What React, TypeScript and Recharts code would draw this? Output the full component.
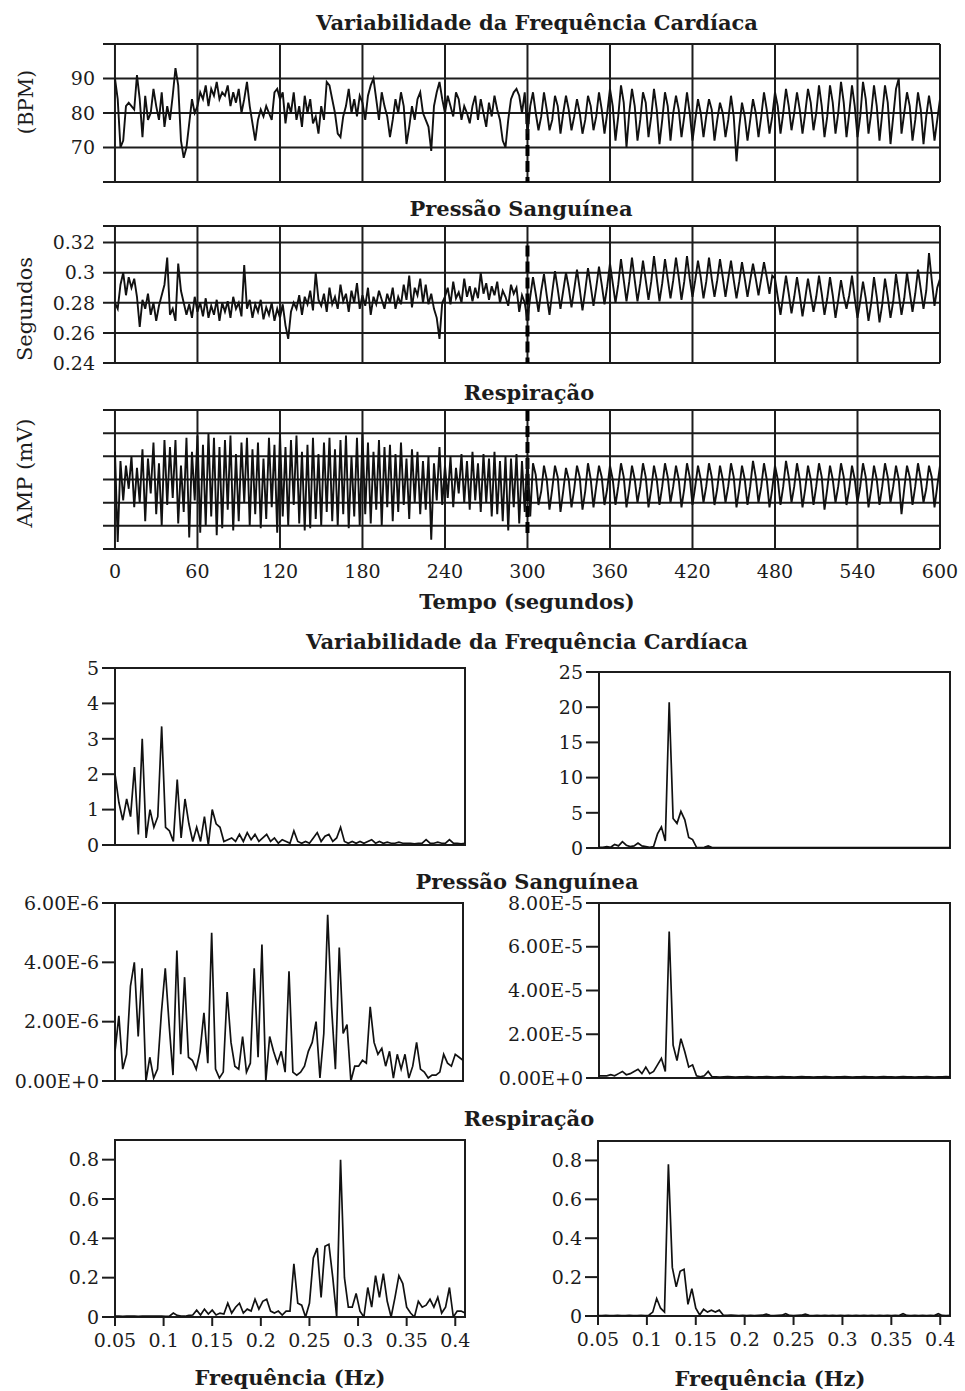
import React from 'react';
import { LineChart, Line, XAxis, YAxis, CartesianGrid, ReferenceLine, ReferenceArea } from 'recharts';

// ---------- time-domain series (one value every 2 s, 0..600 s) ----------
const TIME_STEP = 2;

const hrvBpm = [
  90, 84, 70, 72, 82, 83, 82, 81, 91, 84,
  73, 85, 78, 80, 87, 82, 78, 86, 76, 82,
  78, 85, 93, 88, 72, 67, 70, 77, 84, 80,
  82, 86, 84, 88, 82, 87, 85, 89, 84, 86,
  85, 88, 82, 86, 83, 87, 80, 84, 89, 82,
  77, 72, 78, 81, 79, 82, 80, 78, 86, 87,
  84, 86, 77, 83, 80, 86, 78, 82, 76, 85,
  80, 84, 77, 79, 74, 82, 78, 89, 88, 84,
  80, 74, 73, 79, 82, 87, 80, 84, 79, 85,
  83, 78, 85, 88, 90, 84, 78, 86, 82, 79,
  73, 78, 84, 80, 86, 82, 71, 76, 82, 78,
  84, 86, 80, 78, 76, 69, 82, 86, 89, 84,
  80, 85, 82, 79, 86, 84, 78, 82, 80, 77,
  82, 85, 78, 84, 80, 76, 83, 79, 85, 81,
  78, 72, 70, 78, 84, 86, 87, 85, 80, 86,
  74, 82, 86, 80, 75, 79, 86, 81, 75, 78,
  85, 82, 74, 80, 85, 81, 75, 79, 84, 80,
  74, 78, 85, 82, 75, 79, 86, 81, 74, 80,
  87, 82, 72, 79, 88, 83, 70, 80, 87, 82,
  72, 78, 86, 83, 73, 79, 87, 81, 71, 78,
  86, 82, 72, 80, 85, 81, 73, 79, 86, 80,
  72, 78, 84, 80, 73, 79, 84, 81, 72, 78,
  83, 80, 73, 78, 85, 79, 66, 76, 83, 79,
  72, 78, 84, 80, 73, 79, 86, 81, 74, 79,
  86, 82, 74, 80, 87, 82, 75, 80, 86, 81,
  74, 80, 87, 83, 75, 80, 88, 82, 73, 79,
  88, 83, 74, 80, 89, 83, 73, 80, 88, 82,
  73, 79, 89, 84, 74, 80, 88, 82, 72, 80,
  88, 83, 71, 79, 87, 90, 74, 80, 86, 82,
  72, 78, 86, 81, 71, 79, 85, 80, 72, 78,
  84,
];

const bpSeconds = [
  0.280, 0.276, 0.292, 0.300, 0.285, 0.297, 0.290, 0.296, 0.284, 0.264,
  0.282, 0.276, 0.286, 0.272, 0.280, 0.268, 0.278, 0.285, 0.292, 0.310,
  0.272, 0.276, 0.268, 0.306, 0.288, 0.280, 0.272, 0.279, 0.270, 0.284,
  0.274, 0.280, 0.271, 0.283, 0.270, 0.278, 0.272, 0.282, 0.268, 0.280,
  0.274, 0.281, 0.270, 0.284, 0.276, 0.280, 0.271, 0.305, 0.276, 0.282,
  0.270, 0.279, 0.274, 0.282, 0.269, 0.277, 0.272, 0.280, 0.268, 0.276,
  0.270, 0.279, 0.265, 0.256, 0.274, 0.280, 0.276, 0.285, 0.272, 0.284,
  0.279, 0.288, 0.275, 0.300, 0.282, 0.278, 0.286, 0.274, 0.290, 0.279,
  0.284, 0.276, 0.292, 0.281, 0.286, 0.274, 0.288, 0.280, 0.293, 0.276,
  0.285, 0.278, 0.290, 0.272, 0.284, 0.279, 0.288, 0.282, 0.276, 0.286,
  0.280, 0.290, 0.276, 0.284, 0.279, 0.292, 0.282, 0.298, 0.277, 0.290,
  0.285, 0.296, 0.280, 0.292, 0.279, 0.286, 0.276, 0.270, 0.256, 0.280,
  0.284, 0.290, 0.279, 0.294, 0.283, 0.287, 0.280, 0.296, 0.284, 0.291,
  0.281, 0.290, 0.283, 0.300, 0.286, 0.293, 0.282, 0.291, 0.285, 0.294,
  0.280, 0.288, 0.284, 0.278, 0.292, 0.286, 0.290, 0.274, 0.285, 0.280,
  0.268, 0.284, 0.297, 0.286, 0.274, 0.288, 0.299, 0.285, 0.272, 0.287,
  0.301, 0.289, 0.276, 0.288, 0.300, 0.290, 0.277, 0.289, 0.302, 0.289,
  0.275, 0.288, 0.303, 0.291, 0.278, 0.290, 0.304, 0.292, 0.279, 0.291,
  0.306, 0.293, 0.280, 0.292, 0.309, 0.295, 0.281, 0.294, 0.310, 0.295,
  0.281, 0.293, 0.308, 0.295, 0.282, 0.294, 0.311, 0.296, 0.281, 0.293,
  0.309, 0.296, 0.283, 0.295, 0.310, 0.297, 0.282, 0.294, 0.311, 0.296,
  0.284, 0.295, 0.308, 0.297, 0.283, 0.294, 0.310, 0.296, 0.284, 0.295,
  0.309, 0.297, 0.284, 0.296, 0.308, 0.295, 0.283, 0.294, 0.307, 0.296,
  0.284, 0.295, 0.306, 0.296, 0.285, 0.296, 0.307, 0.297, 0.286, 0.298,
  0.296, 0.284, 0.272, 0.285, 0.298, 0.286, 0.273, 0.284, 0.297, 0.285,
  0.271, 0.283, 0.296, 0.285, 0.274, 0.284, 0.298, 0.286, 0.272, 0.283,
  0.297, 0.285, 0.270, 0.282, 0.295, 0.284, 0.276, 0.285, 0.298, 0.283,
  0.270, 0.281, 0.294, 0.283, 0.268, 0.280, 0.297, 0.284, 0.267, 0.279,
  0.296, 0.284, 0.270, 0.281, 0.299, 0.286, 0.272, 0.283, 0.300, 0.287,
  0.274, 0.286, 0.302, 0.289, 0.276, 0.288, 0.313, 0.295, 0.278, 0.290,
  0.296,
];

const respMv = [
  1.2, -2.7, 0.8, -0.9, 0.6, -0.4, 1.0, -1.2, 0.5, -1.0,
  1.3, -1.8, 0.9, -0.6, 1.6, -1.5, 0.7, -2.0, 1.7, -1.1,
  1.4, -0.8, 1.7, -1.9, 0.6, -1.4, 1.8, -2.5, 1.2, -0.9,
  1.9, -2.3, 1.5, -2.0, 2.0, -1.6, 1.8, -2.4, 1.4, -2.1,
  1.7, -1.3, 1.9, -2.2, 1.1, -1.8, 1.6, -1.0, 1.8, -2.0,
  1.3, -1.5, 1.6, -2.1, 0.9, -1.7, 1.8, -1.2, 1.5, -2.3,
  2.0, -1.6, 1.4, -2.0, 1.7, -1.1, 1.9, -1.9, 1.2, -2.2,
  1.5, -2.1, 1.8, -1.7, 1.1, -2.0, 1.6, -1.4, 1.8, -1.8,
  1.3, -2.0, 1.7, -1.5, 1.9, -2.1, 1.0, -1.6, 1.8, -2.0,
  2.0, -1.5, 1.6, -1.9, 1.2, -1.3, 1.7, -2.0, 1.4, -1.2,
  1.5, -1.8, 1.1, -1.4, 1.6, -1.1, 0.9, -1.7, 1.3, -1.0,
  1.2, -1.5, 0.8, -1.3, 1.0, -2.6, 0.7, -0.9, 1.4, -1.1,
  0.6, -0.8, 1.0, -1.2, 0.5, -0.6, 1.1, -1.0, 0.8, -1.3,
  1.2, -0.9, 0.7, -1.4, 1.1, -1.0, 0.9, -1.6, 1.2, -1.5,
  0.8, -1.8, 1.0, -2.2, 0.9, -1.2, 1.1, -1.9, 0.8, -1.4,
  1.0, -1.6, 0.7, 0.2, -1.1, -0.5, 0.6, 0.0, -1.3, -0.4,
  0.6, 0.1, -1.4, -0.5, 0.5, 0.0, -1.2, -0.4, 0.6, 0.1,
  -1.3, -0.5, 0.7, 0.0, -1.2, -0.3, 0.6, 0.1, -1.1, -0.4,
  0.6, 0.0, -1.1, -0.3, 0.7, 0.1, -1.2, -0.4, 0.6, 0.0,
  -1.0, -0.3, 0.7, 0.1, -1.2, -0.4, 0.6, 0.0, -1.1, -0.3,
  0.7, 0.1, -1.0, -0.3, 0.6, 0.0, -1.2, -0.4, 0.7, 0.1,
  -1.1, -0.3, 0.6, 0.0, -1.0, -0.3, 0.7, 0.1, -1.1, -0.4,
  0.6, 0.0, -1.0, -0.3, 0.7, 0.1, -1.2, -0.4, 0.6, 0.0,
  -1.1, -0.3, 0.8, 0.1, -1.0, -0.3, 0.7, 0.0, -1.2, -0.4,
  0.6, 0.0, -1.1, -0.3, 0.8, 0.1, -1.0, -0.3, 0.7, 0.0,
  -1.2, -0.4, 0.6, 0.0, -1.1, -0.3, 0.7, 0.1, -1.3, -0.4,
  0.6, 0.0, -1.0, -0.3, 0.7, 0.1, -1.1, -0.4, 0.6, 0.0,
  -1.0, -0.3, 0.7, 0.1, -1.2, -0.4, 0.6, 0.0, -1.1, -0.3,
  0.7, 0.1, -1.0, -0.3, 0.6, 0.0, -1.5, -0.4, 0.6, 0.1,
  -1.1, -0.3, 0.7, 0.0, -1.0, -0.4, 0.6, 0.1, -1.2, -0.3,
  0.6,
];

// ---------- spectra (0.05 .. 0.41 Hz, one value every 0.004 Hz) ----------
const FREQ_START = 0.05;
const FREQ_STEP = 0.004;

const hrvSpecLeft = [
  2.0, 1.2, 0.7, 1.3, 0.8, 2.2, 0.3, 3.0, 0.2, 1.0,
  0.5, 0.8, 3.35, 0.5, 0.4, 0.1, 1.85, 0.2, 1.3, 0.6,
  0.1, 0.5, 0.1, 0.8, 0.0, 1.0, 0.6, 0.5, 0.1, 0.15,
  0.2, 0.1, 0.3, 0.1, 0.35, 0.15, 0.3, 0.1, 0.2, 0.3,
  0.1, 0.2, 0.05, 0.15, 0.1, 0.05, 0.4, 0.1, 0.05, 0.1,
  0.05, 0.2, 0.35, 0.1, 0.25, 0.3, 0.1, 0.2, 0.5, 0.1,
  0.05, 0.1, 0.05, 0.1, 0.05, 0.1, 0.15, 0.05, 0.1, 0.05,
  0.08, 0.05, 0.05, 0.08, 0.05, 0.05, 0.05, 0.03, 0.05, 0.05,
  0.15, 0.05, 0.05, 0.08, 0.05, 0.05, 0.15, 0.05, 0.05, 0.03,
  0.05,
];

const hrvSpecRight = [
  0.1, 0.1, 0.2, 0.1, 0.5, 0.3, 0.9, 0.4, 0.2, 0.3,
  0.7, 0.3, 0.2, 0.1, 0.2, 2.0, 3.0, 1.0, 20.7, 4.2,
  3.5, 5.2, 4.0, 1.5, 1.2, 0.1, 0.05, 0.1, 0.3, 0.05,
  0.05, 0.04, 0.05, 0.06, 0.05, 0.04, 0.05, 0.05, 0.06, 0.05,
  0.04, 0.05, 0.05, 0.06, 0.05, 0.04, 0.05, 0.06, 0.05, 0.05,
  0.04, 0.05, 0.06, 0.05, 0.05, 0.04, 0.05, 0.05, 0.06, 0.05,
  0.04, 0.05, 0.05, 0.06, 0.05, 0.04, 0.05, 0.05, 0.06, 0.05,
  0.05, 0.04, 0.05, 0.06, 0.05, 0.05, 0.04, 0.05, 0.06, 0.05,
  0.05, 0.04, 0.05, 0.05, 0.06, 0.05, 0.04, 0.05, 0.05, 0.06,
  0.05,
];

// units of 1E-6
const bpSpecLeft = [
  1.0, 2.2, 0.4, 0.9, 3.2, 4.0, 1.5, 3.8, 0.0, 0.8,
  0.1, 0.4, 2.3, 3.8, 1.9, 0.2, 4.4, 0.9, 3.5, 0.8,
  0.7, 0.4, 1.0, 2.3, 0.6, 5.0, 0.4, 0.1, 0.3, 3.0,
  1.3, 0.5, 0.4, 1.5, 0.3, 0.6, 3.8, 0.8, 4.6, 0.0,
  1.5, 1.0, 0.6, 1.0, 0.3, 3.7, 0.3, 0.2, 0.3, 0.5,
  1.0, 1.3, 2.0, 0.1, 1.6, 5.6, 2.5, 0.4, 4.5, 1.6,
  1.9, 0.0, 0.5, 0.5, 0.7, 0.6, 2.5, 1.3, 0.9, 1.1,
  0.5, 1.0, 0.1, 0.9, 0.4, 0.9, 0.1, 0.5, 1.3, 0.4,
  0.3, 0.1, 0.2, 0.2, 0.3, 0.9, 0.6, 0.5, 0.9, 0.8,
  0.7,
];

// units of 1E-5
const bpSpecRight = [
  0.1, 0.1, 0.1, 0.15, 0.1, 0.2, 0.3, 0.15, 0.2, 0.3,
  0.4, 0.2, 0.5, 0.2, 0.3, 0.6, 0.9, 0.3, 6.7, 1.5,
  0.8, 1.8, 1.2, 0.5, 0.6, 0.1, 0.05, 0.1, 0.3, 0.05,
  0.05, 0.04, 0.05, 0.06, 0.05, 0.04, 0.05, 0.05, 0.06, 0.05,
  0.04, 0.05, 0.05, 0.06, 0.05, 0.04, 0.05, 0.06, 0.05, 0.05,
  0.04, 0.05, 0.06, 0.05, 0.05, 0.04, 0.05, 0.05, 0.06, 0.05,
  0.04, 0.05, 0.05, 0.06, 0.05, 0.04, 0.05, 0.05, 0.06, 0.05,
  0.05, 0.04, 0.05, 0.06, 0.05, 0.05, 0.04, 0.05, 0.06, 0.05,
  0.05, 0.04, 0.05, 0.05, 0.06, 0.05, 0.04, 0.05, 0.05, 0.06,
  0.05,
];

const respSpecLeft = [
  0.005, 0.005, 0.003, 0.005, 0.004, 0.005, 0.003, 0.005, 0.004, 0.005,
  0.005, 0.004, 0.005, 0.003, 0.004, 0.02, 0.008, 0.005, 0.004, 0.008,
  0.01, 0.035, 0.01, 0.04, 0.015, 0.035, 0.01, 0.02, 0.015, 0.07,
  0.02, 0.05, 0.07, 0.02, 0.04, 0.03, 0.09, 0.04, 0.08, 0.09,
  0.03, 0.02, 0.03, 0.01, 0.03, 0.03, 0.27, 0.07, 0.06, 0.0,
  0.07, 0.3, 0.35, 0.1, 0.36, 0.37, 0.2, 0.0, 0.8, 0.2,
  0.05, 0.05, 0.12, 0.03, 0.0, 0.15, 0.05, 0.21, 0.1, 0.22,
  0.08, 0.0, 0.1, 0.21, 0.17, 0.05, 0.02, 0.0, 0.08, 0.05,
  0.06, 0.09, 0.05, 0.1, 0.02, 0.05, 0.15, 0.0, 0.03, 0.03,
  0.02,
];

const respSpecRight = [
  0.002, 0.002, 0.003, 0.002, 0.002, 0.003, 0.002, 0.002, 0.003, 0.002,
  0.002, 0.003, 0.002, 0.004, 0.02, 0.09, 0.04, 0.02, 0.78, 0.25,
  0.15, 0.23, 0.24, 0.06, 0.14, 0.04, 0.005, 0.035, 0.02, 0.03,
  0.02, 0.03, 0.005, 0.003, 0.004, 0.003, 0.002, 0.003, 0.002, 0.003,
  0.002, 0.003, 0.004, 0.01, 0.003, 0.002, 0.003, 0.004, 0.012, 0.003,
  0.002, 0.003, 0.004, 0.01, 0.003, 0.002, 0.003, 0.002, 0.003, 0.002,
  0.003, 0.002, 0.003, 0.002, 0.003, 0.002, 0.003, 0.002, 0.003, 0.002,
  0.003, 0.002, 0.003, 0.002, 0.003, 0.002, 0.003, 0.002, 0.012, 0.003,
  0.002, 0.003, 0.002, 0.003, 0.002, 0.003, 0.002, 0.012, 0.003, 0.002,
  0.003,
];

// ---------- ticks ----------
const timeTicks = [0, 60, 120, 180, 240, 300, 360, 420, 480, 540, 600];
const freqTicks = [0.05, 0.1, 0.15, 0.2, 0.25, 0.3, 0.35, 0.4];
const hrvTicks = [60, 70, 80, 90, 100];
const bpTicks = [0.24, 0.26, 0.28, 0.3, 0.32, 0.331];
const respTicks = [-3, -2, -1, 0, 1, 2, 3];
const hrvSpecLeftTicks = [0, 1, 2, 3, 4, 5];
const hrvSpecRightTicks = [0, 5, 10, 15, 20, 25];
const bpSpecLeftTicks = [0, 2, 4, 6];
const bpSpecRightTicks = [0, 2, 4, 6, 8];
const respSpecTicks = [0, 0.2, 0.4, 0.6, 0.8];

// ---------- tables for the library ----------
const timeData = hrvBpm.map((v, i) => ({
  t: i * TIME_STEP,
  hrv: v,
  bp: bpSeconds[i],
  resp: respMv[i],
}));

const specData = hrvSpecLeft.map((v, i) => ({
  f: Number((FREQ_START + FREQ_STEP * i).toFixed(3)),
  hL: v,
  hR: hrvSpecRight[i],
  bL: bpSpecLeft[i],
  bR: bpSpecRight[i],
  rL: respSpecLeft[i],
  rR: respSpecRight[i],
}));

// ---------- styling ----------
const FONT = '"DejaVu Serif", "Liberation Serif", serif';
const INK = '#1c1c1c';
const tickStyle = { fontSize: 19, fill: INK, fontFamily: FONT };

const Title = ({ x, y, children }: any) => (
  <div
    style={{
      position: 'absolute', left: x, top: y, transform: 'translate(-50%, -50%)',
      fontFamily: FONT, fontWeight: 'bold', fontSize: 21, color: INK, whiteSpace: 'nowrap',
    }}
  >
    {children}
  </div>
);

const VLabel = ({ x, y, size = 20, children }: any) => (
  <div
    style={{
      position: 'absolute', left: x, top: y, transform: 'translate(-50%, -50%) rotate(-90deg)',
      fontFamily: FONT, fontSize: size, color: INK, whiteSpace: 'nowrap',
    }}
  >
    {children}
  </div>
);

const TimePanel = ({ top, height, mt, mb, dataKey, domain, ticks, fmt, showX, seg }: any) => (
  <div style={{ position: 'absolute', left: 0, top, width: 965, height }}>
    <LineChart width={965} height={height} data={timeData} margin={{ top: mt, right: 25, bottom: mb, left: 0 }}>
      <CartesianGrid stroke={INK} strokeWidth={2} syncWithTicks />
      <XAxis
        type="number" dataKey="t" domain={[-8.7, 600]} ticks={timeTicks} interval={0}
        hide={!showX} height={showX ? 40 : 0} axisLine={false} tickLine={false}
        tickSize={0} tickMargin={16} tick={tickStyle} allowDataOverflow
      />
      <YAxis
        type="number" domain={domain} ticks={ticks} interval={0} width={103}
        axisLine={false} tickLine={false} tick={tickStyle}
        tickFormatter={fmt} allowDataOverflow
      />
      <ReferenceLine segment={seg} stroke="#000" strokeWidth={4} strokeDasharray="11 5" ifOverflow="visible" />
      <Line type="linear" dataKey={dataKey} stroke="#111" strokeWidth={1.9} dot={false} isAnimationActive={false} />
    </LineChart>
  </div>
);

const SpecPanel = ({ left, top, width, height, yWidth, mt, mr, mb, dataKey, domain, ticks, fmt, showX }: any) => (
  <div style={{ position: 'absolute', left, top, width, height }}>
    <LineChart width={width} height={height} data={specData} margin={{ top: mt, right: mr, bottom: mb, left: 0 }}>
      <XAxis
        type="number" dataKey="f" domain={[0.05, 0.41]} ticks={freqTicks} interval={0}
        hide={!showX} height={showX ? 40 : 0} axisLine={false}
        tickLine={{ stroke: INK, strokeWidth: 2 }} tickSize={9} tickMargin={8}
        tick={tickStyle} allowDataOverflow
      />
      <YAxis
        type="number" domain={domain} ticks={ticks} interval={0} width={yWidth}
        axisLine={false} tickLine={{ stroke: INK, strokeWidth: 2 }} tickSize={13} tickMargin={3}
        tick={tickStyle} tickFormatter={fmt} allowDataOverflow
      />
      <ReferenceArea
        x1={0.05} x2={0.41} y1={domain[0]} y2={domain[1]}
        fill="none" fillOpacity={0} stroke={INK} strokeWidth={2} ifOverflow="visible"
      />
      <Line type="linear" dataKey={dataKey} stroke="#111" strokeWidth={1.7} dot={false} isAnimationActive={false} />
    </LineChart>
  </div>
);

const hrvFmt = (v: number) => (v === 60 || v === 100 ? '' : String(v));
const bpFmt = (v: number) => (v > 0.325 ? '' : String(Number(v.toFixed(2))));
const blankFmt = () => '';
const plainFmt = (v: number) => String(v);
const e6Fmt = (v: number) => (v === 0 ? '0.00E+0' : `${v.toFixed(2)}E-6`);
const e5Fmt = (v: number) => (v === 0 ? '0.00E+0' : `${v.toFixed(2)}E-5`);

export default function App() {
  return (
    <div style={{ position: 'absolute', left: 0, top: 0, width: 965, height: 1391, background: '#fff', overflow: 'hidden' }}>
      {/* ---- time domain ---- */}
      <Title x={537} y={22}>Variabilidade da Frequência Cardíaca</Title>
      <VLabel x={26} y={102}>(BPM)</VLabel>
      <TimePanel
        top={30} height={164} mt={14} mb={12} dataKey="hrv" domain={[60, 100]} ticks={hrvTicks}
        fmt={hrvFmt} showX={false} seg={[{ x: 300, y: 80 }, { x: 300, y: 60 }]}
      />

      <Title x={521} y={208}>Pressão Sanguínea</Title>
      <VLabel x={25} y={309} size={21}>Segundos</VLabel>
      <TimePanel
        top={216} height={159} mt={10} mb={12} dataKey="bp" domain={[0.24, 0.331]} ticks={bpTicks}
        fmt={bpFmt} showX={false} seg={[{ x: 300, y: 0.318 }, { x: 300, y: 0.24 }]}
      />

      <Title x={529} y={392}>Respiração</Title>
      <VLabel x={25} y={473} size={21}>AMP (mV)</VLabel>
      <TimePanel
        top={400} height={189} mt={10} mb={0} dataKey="resp" domain={[-3, 3]} ticks={respTicks}
        fmt={blankFmt} showX={true} seg={[{ x: 300, y: 3 }, { x: 300, y: -2.4 }]}
      />
      <Title x={527} y={601}>Tempo (segundos)</Title>

      {/* ---- spectra ---- */}
      <Title x={527} y={641}>Variabilidade da Frequência Cardíaca</Title>
      <SpecPanel left={0} top={655} width={480} height={200} yWidth={115} mt={13} mr={15} mb={10}
        dataKey="hL" domain={[0, 5]} ticks={hrvSpecLeftTicks} fmt={plainFmt} showX={false} />
      <SpecPanel left={480} top={655} width={485} height={203} yWidth={119} mt={17} mr={15} mb={10}
        dataKey="hR" domain={[0, 25]} ticks={hrvSpecRightTicks} fmt={plainFmt} showX={false} />

      <Title x={527} y={881}>Pressão Sanguínea</Title>
      <SpecPanel left={0} top={890} width={480} height={201} yWidth={115} mt={13} mr={17} mb={10}
        dataKey="bL" domain={[0, 6]} ticks={bpSpecLeftTicks} fmt={e6Fmt} showX={false} />
      <SpecPanel left={480} top={890} width={485} height={198} yWidth={119} mt={13} mr={15} mb={10}
        dataKey="bR" domain={[0, 8]} ticks={bpSpecRightTicks} fmt={e5Fmt} showX={false} />

      <Title x={529} y={1118}>Respiração</Title>
      <SpecPanel left={0} top={1128} width={480} height={229} yWidth={115} mt={12} mr={15} mb={0}
        dataKey="rL" domain={[0, 0.9]} ticks={respSpecTicks} fmt={plainFmt} showX={true} />
      <SpecPanel left={480} top={1128} width={485} height={228} yWidth={118} mt={13} mr={15} mb={0}
        dataKey="rR" domain={[0, 0.9]} ticks={respSpecTicks} fmt={plainFmt} showX={true} />
      <Title x={290} y={1377}>Frequência (Hz)</Title>
      <Title x={770} y={1378}>Frequência (Hz)</Title>
    </div>
  );
}
